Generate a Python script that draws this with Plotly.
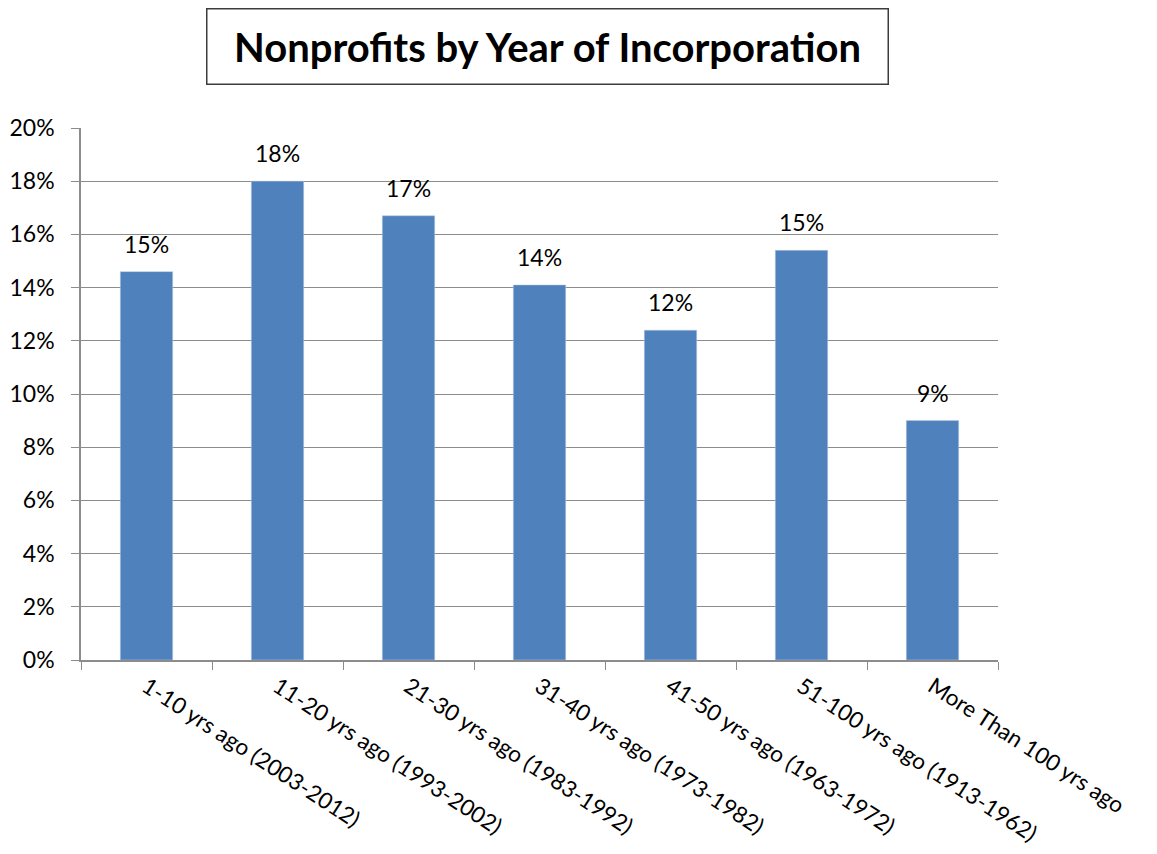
import plotly.graph_objects as go

categories = [
    "1-10 yrs ago (2003-2012)",
    "11-20 yrs ago (1993-2002)",
    "21-30 yrs ago (1983-1992)",
    "31-40 yrs ago (1973-1982)",
    "41-50 yrs ago (1963-1972)",
    "51-100 yrs ago (1913-1962)",
    "More Than 100 yrs ago",
]
shares = [0.146, 0.180, 0.167, 0.141, 0.124, 0.154, 0.090]
y_ticks = [0.00, 0.02, 0.04, 0.06, 0.08, 0.10, 0.12, 0.14, 0.16, 0.18, 0.20]

FONT = "Lato"
GRID = "#8c8c8c"
LABEL_SIZE = 23

fig = go.Figure(
    go.Bar(
        x=categories,
        y=shares,
        width=0.4,
        marker=dict(color="#4F81BD", line=dict(color="#B9CDE5", width=0.5)),
        hoverinfo="x+y",
    )
)

# value labels sit a little above each bar
value_labels = [
    dict(
        x=c, y=v, xref="x", yref="y",
        text=f"{v:.0%}",
        showarrow=False,
        xanchor="center", yanchor="bottom",
        yshift=12,
        font=dict(family=FONT, size=LABEL_SIZE, color="black"),
    )
    for c, v in zip(categories, shares)
]

title_box = dict(
    text="<b>Nonprofits by Year of Incorporation</b>",
    xref="paper", yref="paper",
    x=(547 - 81) / 917, y=1 + (128 - 46) / 532,
    xanchor="center", yanchor="middle",
    showarrow=False,
    font=dict(family=FONT, size=40, color="black"),
    bordercolor="#3c3c3c", borderwidth=1.5,
    width=678, height=72,
    bgcolor="white",
)

fig.update_layout(
    width=1157,
    height=854,
    margin=dict(l=81, r=159, t=128, b=194),
    paper_bgcolor="white",
    plot_bgcolor="white",
    showlegend=False,
    font=dict(family=FONT, size=LABEL_SIZE, color="black"),
    annotations=value_labels + [title_box],
)

fig.update_xaxes(
    type="category",
    automargin=False,
    tickangle=33,
    tickson="boundaries",
    ticks="outside",
    ticklen=8,
    tickcolor=GRID,
    showline=True,
    linecolor=GRID,
    linewidth=1.5,
    showgrid=False,
    ticklabelstandoff=3,
    tickfont=dict(family=FONT, size=22.5, color="black"),
)

fig.update_yaxes(
    range=[0, 0.2],
    automargin=False,
    tickvals=y_ticks,
    tickformat=".0%",
    ticks="outside",
    ticklen=8,
    tickcolor=GRID,
    showline=True,
    linecolor=GRID,
    linewidth=1.5,
    showgrid=True,
    gridcolor=GRID,
    gridwidth=1.3,
    zeroline=False,
    ticklabelstandoff=12,
    tickfont=dict(family=FONT, size=LABEL_SIZE, color="black"),
)

fig.write_html("out.html")
